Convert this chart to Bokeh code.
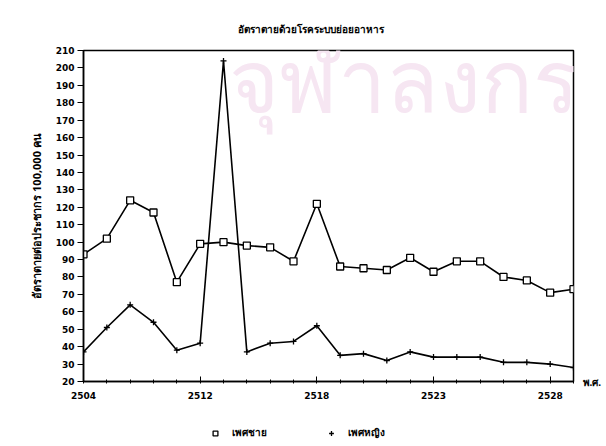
from bokeh.plotting import figure
from bokeh.layouts import column
from bokeh.models import Label, Legend, LegendItem, FixedTicker, Range1d, LinearAxis
from bokeh.embed import file_html
from bokeh.resources import INLINE

title_text = "อัตราตายด้วยโรคระบบย่อยอาหาร"
y_label = "อัตราตายต่อประชากร 100,000 คน"
x_unit = "พ.ศ."
watermark = "จุฬาลงกรณ"
series_names = ["เพศชาย", "เพศหญิง"]

x_index = list(range(22))
tick_positions = [0, 5, 10, 15, 20]
tick_labels = ["2504", "2512", "2518", "2523", "2528"]

male = [93, 102, 124, 117, 77, 99, 100, 98, 97, 89, 122,
        86, 85, 84, 91, 83, 89, 89, 80, 78, 71, 73]
female = [37, 51, 64, 54, 38, 42, 204, 37, 42, 43, 52,
          35, 36, 32, 37, 34, 34, 34, 31, 31, 30, 28]

FONT = "DejaVu Sans"
THAI = "Noto Sans"

p = figure(width=604, height=405, output_backend="svg", toolbar_location=None,
           x_range=Range1d(0, 21), y_range=Range1d(20, 210),
           min_border_left=83, min_border_right=25, min_border_top=50, min_border_bottom=24)
p.background_fill_color = "white"
p.border_fill_color = "white"
p.outline_line_color = "black"
p.outline_line_width = 1.5
p.grid.visible = False

# title
p.title.text = title_text
p.title.align = "left"
p.title.offset = 154
p.title.standoff = 29
p.title.text_font = THAI
p.title.text_font_size = "10px"
p.title.text_font_style = "bold"
p.title.text_color = "black"

# watermark
p.add_layout(Label(x=145, y=303, x_units="screen", y_units="screen", text=watermark,
                   text_font=THAI, text_font_size="86px", text_color="#f6e6f2",
                   text_align="left", text_baseline="alphabetic"))

p.line(x_index, male, line_color="black", line_width=1.6)
p.scatter(x_index, male, marker="square", size=7, fill_color="white",
          line_color="black", line_width=1.3)
p.line(x_index, female, line_color="black", line_width=1.6)
p.scatter(x_index, female, marker="cross", size=6, line_color="black", line_width=1.3)

# axes
p.xaxis.ticker = FixedTicker(ticks=tick_positions, minor_ticks=x_index)
p.xaxis.major_label_overrides = {t: l for t, l in zip(tick_positions, tick_labels)}
p.xaxis.major_tick_in = 5
p.xaxis.major_tick_out = 0
p.xaxis.minor_tick_in = 2
p.xaxis.minor_tick_out = 2
p.xaxis.axis_line_width = 1.5
p.xaxis.major_label_text_font = FONT
p.xaxis.major_label_text_font_size = "9px"
p.xaxis.major_label_text_font_style = "bold"
p.xaxis.major_label_text_color = "black"
p.xaxis.major_label_standoff = 8

p.yaxis.ticker = FixedTicker(ticks=list(range(20, 211, 10)))
p.yaxis.major_tick_in = 0
p.yaxis.major_tick_out = 6
p.yaxis.minor_tick_line_color = None
p.yaxis.axis_line_width = 1.5
p.yaxis.major_label_text_font = FONT
p.yaxis.major_label_text_font_size = "9px"
p.yaxis.major_label_text_font_style = "bold"
p.yaxis.major_label_text_color = "black"
p.yaxis.major_label_standoff = 3
p.yaxis.axis_label = y_label
p.yaxis.axis_label_text_font = THAI
p.yaxis.axis_label_text_font_size = "11px"
p.yaxis.axis_label_text_font_style = "bold"
p.yaxis.axis_label_text_color = "black"
p.yaxis.axis_label_standoff = 9

# unit label on the right, level with the x axis
unit_axis = LinearAxis(ticker=FixedTicker(ticks=[20]), major_label_overrides={20: x_unit},
                       axis_line_color=None, major_tick_line_color=None,
                       minor_tick_line_color=None, major_label_standoff=3,
                       major_label_text_font=THAI, major_label_text_font_size="10px",
                       major_label_text_font_style="bold", major_label_text_color="black")
p.add_layout(unit_axis, "right")

# legend strip underneath
lg = figure(width=604, height=39, output_backend="svg", toolbar_location=None,
            x_range=Range1d(0, 1), y_range=Range1d(0, 1),
            x_axis_location=None, y_axis_location=None,
            min_border_left=0, min_border_right=0, min_border_top=0, min_border_bottom=0)
lg.grid.visible = False
lg.outline_line_color = None
lg_m = lg.scatter([-5], [-5], marker="square", size=7, fill_color="white",
                  line_color="black", line_width=1.3)
lg_f = lg.scatter([-5], [-5], marker="cross", size=6, line_color="black", line_width=1.3)
legend = Legend(items=[LegendItem(label=series_names[0], renderers=[lg_m]),
                       LegendItem(label=series_names[1], renderers=[lg_f])],
                location=(126, 4), orientation="horizontal",
                glyph_width=12, glyph_height=12, label_standoff=11, spacing=58,
                label_width=10,
                padding=0, margin=0, border_line_color=None, background_fill_alpha=0,
                label_text_font=THAI, label_text_font_size="10px",
                label_text_font_style="bold", label_text_color="black")
lg.add_layout(legend, "center")

open("out.html", "w").write(file_html(column(p, lg, spacing=0), INLINE))
